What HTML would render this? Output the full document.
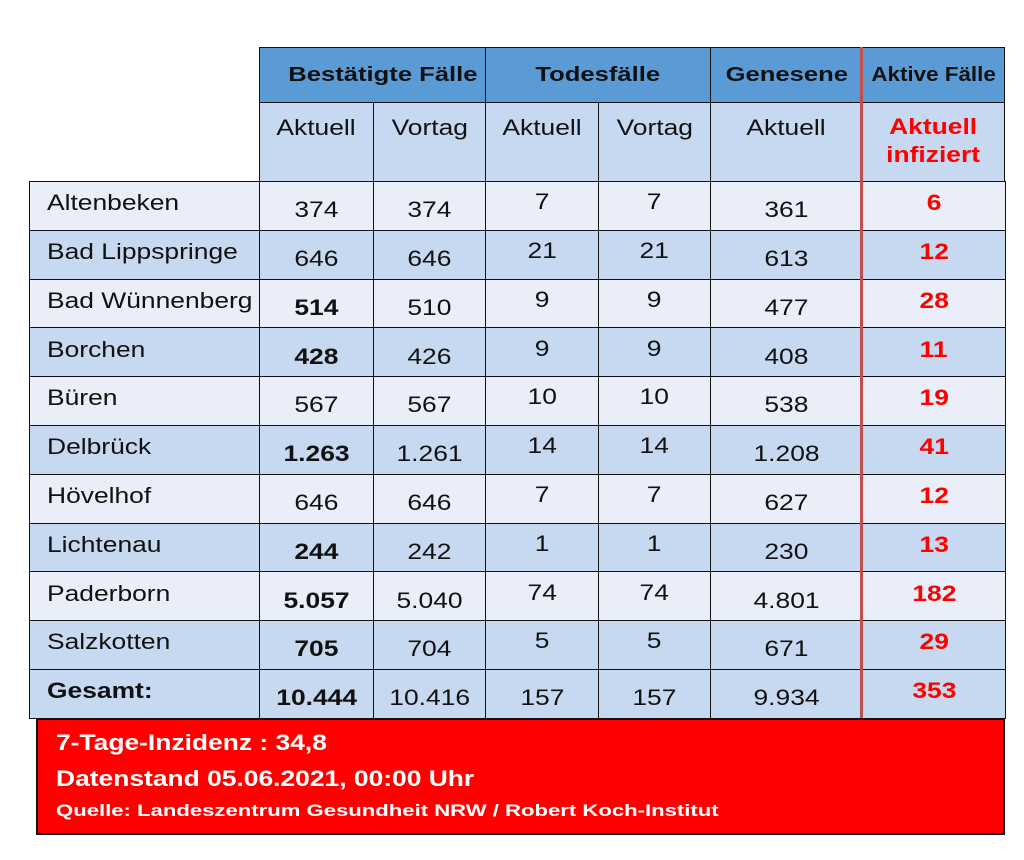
<!DOCTYPE html>
<html><head><meta charset="utf-8">
<style>
body{margin:0;width:1024px;height:860px;background:#fff;position:relative;overflow:hidden;font-family:"Liberation Sans",sans-serif;}
.c{position:absolute;box-sizing:border-box;border:1.5px solid #111;display:flex;justify-content:center;color:#111;}
.c span,.s{display:inline-block;transform:scaleX(1.2);transform-origin:center;white-space:nowrap;}
.h1{background:#5b9bd5;font-weight:bold;font-size:20px;align-items:center;}
.h1 span{transform:scaleX(1.28);}
.h2{background:#c6d9f0;font-size:22px;padding-top:12px;}
.d{font-size:22px;align-items:center;}
.L{background:#e9eef8}.B{background:#c6d9f0}
.name{justify-content:flex-start;padding-left:17px;padding-bottom:6px;}
.name span{transform-origin:left center;}
.num{padding-top:8px}
.bold{font-weight:bold}
.red{color:#f00;font-weight:bold;padding-bottom:6px;}
#redline{position:absolute;left:860px;top:47px;width:3px;height:672px;background:#c0504d;}
#box{position:absolute;left:36px;top:718px;width:969px;height:117px;box-sizing:border-box;border:2px solid #111;background:#f00;color:#fff;font-weight:bold;padding-left:18px;}
#box .s{transform-origin:left center;}
</style></head><body>
<div class="c h1" style="left:259px;top:47px;width:227px;height:56px;padding-left:20px"><span>Bestätigte Fälle</span></div>
<div class="c h1" style="left:485px;top:47px;width:226px;height:56px"><span>Todesfälle</span></div>
<div class="c h1" style="left:710px;top:47px;width:153px;height:56px"><span>Genesene</span></div>
<div class="c h1" style="left:862px;top:47px;width:143px;height:56px"><span style="transform:scaleX(1.12)">Aktive Fälle</span></div>
<div class="c h2" style="left:259px;top:102px;width:115px;height:80px"><span>Aktuell</span></div>
<div class="c h2" style="left:373px;top:102px;width:113px;height:80px"><span>Vortag</span></div>
<div class="c h2" style="left:485px;top:102px;width:114px;height:80px"><span>Aktuell</span></div>
<div class="c h2" style="left:598px;top:102px;width:113px;height:80px"><span>Vortag</span></div>
<div class="c h2" style="left:710px;top:102px;width:153px;height:80px"><span>Aktuell</span></div>
<div class="c h2" style="left:862px;top:102px;width:143px;height:80px;color:#f00;font-weight:bold;text-align:center;line-height:28px;padding-top:10px"><span>Aktuell<br>infiziert</span></div>
<div id="rows"></div>
<div id="redline"></div>
<div id="box">
<div style="font-size:22px;margin-top:10px"><span class="s">7-Tage-Inzidenz : 34,8</span></div>
<div style="font-size:22px;margin-top:10px"><span class="s">Datenstand 05.06.2021, 00:00 Uhr</span></div>
<div style="font-size:17px;margin-top:9px"><span class="s" style="transform:scaleX(1.3)">Quelle: Landeszentrum Gesundheit NRW / Robert Koch-Institut</span></div>
</div>
<script>
const names=["Altenbeken","Bad Lippspringe","Bad Wünnenberg","Borchen","Büren","Delbrück","Hövelhof","Lichtenau","Paderborn","Salzkotten","Gesamt:"];
const confirmedNow=["374","646","514","428","567","1.263","646","244","5.057","705","10.444"];
const confirmedPrev=["374","646","510","426","567","1.261","646","242","5.040","704","10.416"];
const deathsNow=["7","21","9","9","10","14","7","1","74","5","157"];
const deathsPrev=["7","21","9","9","10","14","7","1","74","5","157"];
const recovered=["361","613","477","408","538","1.208","627","230","4.801","671","9.934"];
const active=["6","12","28","11","19","41","12","13","182","29","353"];
const boldNow=[0,0,1,1,0,1,0,1,1,1,1];
const xs=[29,259,373,485,598,710,862,1005];
const top0=181,rh=48.8;
const cont=document.getElementById('rows');
names.forEach((n,i)=>{
  const y=top0+i*rh;
  const bg=(i%2===0&&i<10)?'L':'B';
  const vals=[n,confirmedNow[i],confirmedPrev[i],deathsNow[i],deathsPrev[i],recovered[i],active[i]];
  vals.forEach((v,j)=>{
    const d=document.createElement('div');
    let cls='c d '+bg;
    if(j===0) cls+=' name'+(i===10?' bold':'');
    else if(j===6) cls+=' red';
    else if(j===3||j===4) cls+=' '+(i===10?'num':'');
    else cls+=' num';
    if(j===1&&boldNow[i]) cls+=' bold';
    if(j===3||j===4){ if(i<10) d.style.paddingBottom='8px'; }
    d.className=cls;
    d.style.left=xs[j]+'px';d.style.top=y+'px';
    d.style.width=(xs[j+1]-xs[j]+1)+'px';d.style.height=(rh+1.5)+'px';
    const s=document.createElement('span');
    s.textContent=v;
    d.appendChild(s);
    
    
    cont.appendChild(d);
  });
});
</script>
</body></html>
